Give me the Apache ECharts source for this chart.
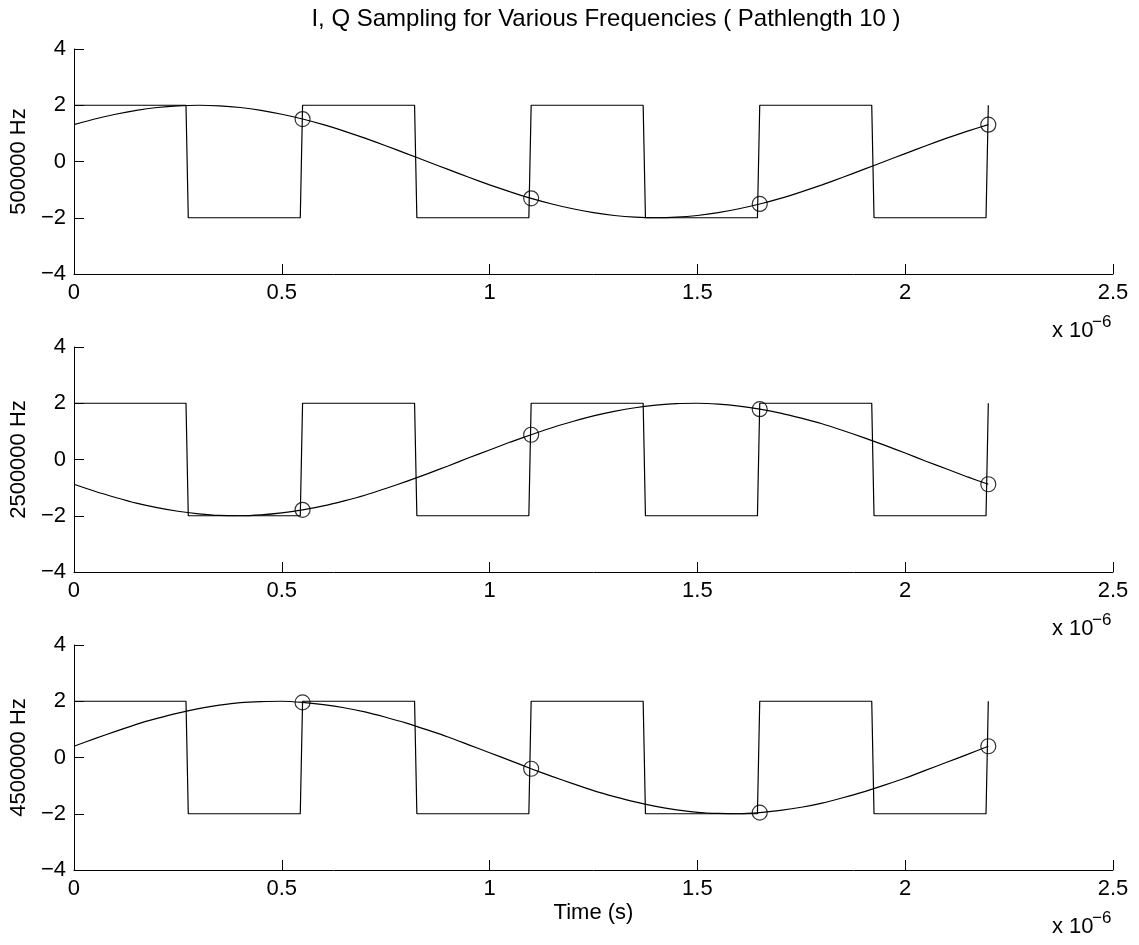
<!DOCTYPE html>
<html>
<head>
<meta charset="utf-8">
<script src="https://cdn.jsdelivr.net/npm/echarts@6/dist/echarts.min.js"></script>
<style>
  html, body { margin: 0; padding: 0; background: #fff; }
  #main { width: 1139px; height: 945px; }
</style>
</head>
<body>
<div id="main"></div>
<script>
// time axis in units of 1e-6 s
const timeUs = [
  0, 0.05, 0.1, 0.15, 0.2, 0.25, 0.3, 0.35, 0.4, 0.45, 0.5, 0.55, 0.6, 0.65, 0.7,
  0.75, 0.8, 0.85, 0.9, 0.95, 1.0, 1.05, 1.1, 1.15, 1.2, 1.25, 1.3, 1.35, 1.4, 1.45,
  1.5, 1.55, 1.6, 1.65, 1.7, 1.75, 1.8, 1.85, 1.9, 1.95, 2.0, 2.05, 2.1, 2.15, 2.2
];

// reference square wave (corners)
const sqTime = [0, 0.2695, 0.275, 0.5445, 0.55, 0.8195, 0.825, 1.0945, 1.1,
  1.3695, 1.375, 1.6445, 1.65, 1.9195, 1.925, 2.1945, 2.2];
const sqLevel = [2, 2, -2, -2, 2, 2, -2, -2, 2, 2, -2, -2, 2, 2, -2, -2, 2];

const sampleTime = [0.55, 1.1, 1.65, 2.2];

const wave500k = [
  1.31, 1.51, 1.68, 1.82, 1.92, 1.98, 2.00, 1.98, 1.92, 1.82, 1.68, 1.51, 1.31, 1.08, 0.83,
  0.56, 0.28, 0, -0.28, -0.56, -0.83, -1.08, -1.31, -1.51, -1.68, -1.82, -1.92, -1.98, -2.00, -1.98,
  -1.92, -1.82, -1.68, -1.51, -1.31, -1.08, -0.83, -0.56, -0.28, 0, 0.28, 0.56, 0.83, 1.08, 1.31
];
const samples500k = [1.51, -1.31, -1.51, 1.31];

const wave2500k = [
  -0.88, -1.13, -1.35, -1.55, -1.71, -1.84, -1.93, -1.99, -2.00, -1.97, -1.90, -1.79, -1.65, -1.47, -1.27,
  -1.03, -0.78, -0.51, -0.23, 0.06, 0.34, 0.62, 0.88, 1.13, 1.35, 1.55, 1.71, 1.84, 1.93, 1.99,
  2.00, 1.97, 1.90, 1.79, 1.65, 1.47, 1.27, 1.03, 0.78, 0.51, 0.23, -0.06, -0.34, -0.62, -0.88
];
const samples2500k = [-1.79, 0.88, 1.79, -0.88];

const wave4500k = [
  0.40, 0.67, 0.93, 1.18, 1.39, 1.58, 1.74, 1.86, 1.95, 1.99, 2.00, 1.96, 1.88, 1.77, 1.62,
  1.43, 1.22, 0.98, 0.73, 0.45, 0.17, -0.11, -0.40, -0.67, -0.93, -1.18, -1.39, -1.58, -1.74, -1.86,
  -1.95, -1.99, -2.00, -1.96, -1.88, -1.77, -1.62, -1.43, -1.22, -0.98, -0.73, -0.45, -0.17, 0.11, 0.40
];
const samples4500k = [1.96, -0.40, -1.96, 0.40];

const panelLabels = ['500000 Hz', '2500000 Hz', '4500000 Hz'];
const panelWaves = [wave500k, wave2500k, wave4500k];
const panelSamples = [samples500k, samples2500k, samples4500k];

const FONT = 'Liberation Sans, Arial, Helvetica, sans-serif';
const gridTops = [49, 347, 645];
const gridHeight = 225;

const zip = (xs, ys) => xs.map((x, i) => [x, ys[i]]);
const minus = (v) => String(v).replace('-', '\u2212');

const chart = echarts.init(document.getElementById('main'));

const grids = gridTops.map((top) => ({ left: 71, top: top, width: 1042, height: gridHeight }));

const xAxes = gridTops.map((_, i) => ({
  type: 'value',
  gridIndex: i,
  min: 0,
  max: 2.5,
  interval: 0.5,
  axisLine: { onZero: false, lineStyle: { color: '#000', width: 1 } },
  axisTick: { inside: true, length: 10, lineStyle: { color: '#000' } },
  axisLabel: { color: '#000', fontSize: 22, fontFamily: FONT, margin: 8, formatter: minus },
  splitLine: { show: false },
  name: i === 2 ? 'Time (s)' : '',
  nameLocation: 'middle',
  nameGap: 32,
  nameTextStyle: { color: '#000', fontSize: 22, fontFamily: FONT }
}));

const yAxes = gridTops.map((_, i) => ({
  type: 'value',
  gridIndex: i,
  min: -4,
  max: 4,
  interval: 2,
  axisLine: { show: true, lineStyle: { color: '#000', width: 1 } },
  axisTick: { show: true, inside: true, length: 10, lineStyle: { color: '#000' } },
  axisLabel: { color: '#000', fontSize: 22, fontFamily: FONT, margin: 8, formatter: minus },
  splitLine: { show: false },
  name: panelLabels[i],
  nameLocation: 'middle',
  nameRotate: 90,
  nameGap: 40,
  nameTextStyle: { color: '#000', fontSize: 22, fontFamily: FONT }
}));

const series = [];
gridTops.forEach((_, i) => {
  series.push({
    type: 'line',
    xAxisIndex: i,
    yAxisIndex: i,
    data: zip(sqTime, sqLevel),
    showSymbol: false,
    lineStyle: { color: '#000', width: 1.2 },
    animation: false
  });
  series.push({
    type: 'line',
    xAxisIndex: i,
    yAxisIndex: i,
    data: zip(timeUs, panelWaves[i]),
    showSymbol: false,
    smooth: 0.2,
    lineStyle: { color: '#000', width: 1.2 },
    animation: false
  });
  series.push({
    type: 'scatter',
    xAxisIndex: i,
    yAxisIndex: i,
    data: zip(sampleTime, panelSamples[i]),
    symbol: 'circle',
    symbolSize: 15,
    itemStyle: { color: 'rgba(0,0,0,0)', borderColor: '#000', borderWidth: 1.2 },
    z: 5,
    animation: false
  });
});

// "x 10^-6" exponent notes under each x axis
const expGraphics = [];
gridTops.forEach((top) => {
  const base = top + gridHeight;
  expGraphics.push({
    type: 'text', left: 1052, top: base + 46,
    style: { text: 'x 10', fill: '#000', font: '22px ' + FONT }
  });
  expGraphics.push({
    type: 'text', left: 1092, top: base + 40,
    style: { text: '\u22126', fill: '#000', font: '17px ' + FONT }
  });
});

chart.setOption({
  backgroundColor: '#fff',
  animation: false,
  title: {
    text: 'I, Q Sampling for Various Frequencies ( Pathlength 10 )',
    left: 601,
    top: 2,
    textAlign: 'center',
    textStyle: { color: '#000', fontSize: 24, fontWeight: 'normal', fontFamily: FONT }
  },
  grid: grids,
  xAxis: xAxes,
  yAxis: yAxes,
  series: series,
  graphic: expGraphics
});
</script>
</body>
</html>
